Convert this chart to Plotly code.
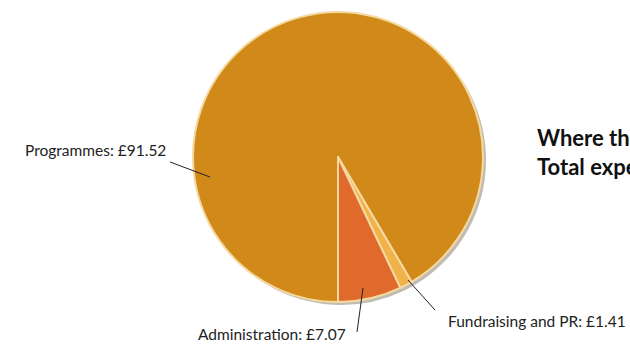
import plotly.graph_objects as go

# Data
categories = ["Programmes", "Fundraising and PR", "Administration"]
values = [91.52, 1.41, 7.07]
label_texts = ["Programmes: £91.52", "Fundraising and PR: £1.41", "Administration: £7.07"]
colors = ["#D18A1A", "#F2B24A", "#E0692C"]
title_lines = ["Where the money goes", "Total expenditure"]

W, H = 630, 348
cx, cy, r = 338, 157, 145

def px(x):
    return x / W

def py(y):
    return 1 - y / H

fig = go.Figure()

# soft shadow pie
sx, sy = cx + 3, cy + 3
fig.add_trace(go.Pie(
    labels=categories, values=values, sort=False, direction="clockwise",
    rotation=180, textinfo="none", hoverinfo="skip", showlegend=False,
    marker=dict(colors=["#9a8f80"] * 3, line=dict(width=0)),
    domain=dict(x=[px(sx - r), px(sx + r)], y=[py(sy + r), py(sy - r)]),
    opacity=0.6,
))

fig.add_trace(go.Pie(
    labels=categories, values=values, sort=False, direction="clockwise",
    rotation=180, textinfo="none", showlegend=False,
    marker=dict(colors=colors, line=dict(color="#F4D9A0", width=2)),
    domain=dict(x=[px(cx - r), px(cx + r)], y=[py(cy + r), py(cy - r)]),
))

font = dict(family="Lato, 'Open Sans', sans-serif", size=15.5, color="#222222")

# leader lines (pixel endpoints)
leaders = [((170, 162), (210, 177)), ((408, 280), (435, 310)), ((363, 288), (357, 332))]
for (x0, y0), (x1, y1) in leaders:
    fig.add_shape(type="line", xref="paper", yref="paper",
                  x0=px(x0), y0=py(y0), x1=px(x1), y1=py(y1),
                  line=dict(color="#222222", width=1))

label_pos = [(168, 150, "right"), (446, 321, "left"), (348, 334, "right")]
for txt, (x, y, anc) in zip(label_texts, label_pos):
    fig.add_annotation(text=txt, x=px(x), y=py(y), xref="paper", yref="paper",
                       xanchor=anc, yanchor="middle", showarrow=False, font=font)

title_font = dict(family="Lato, 'Open Sans', sans-serif", size=22, color="#111111")
for txt, y in zip(title_lines, [137, 166]):
    fig.add_annotation(text="<b>" + txt + "</b>", x=px(535), y=py(y), xref="paper", yref="paper",
                       xanchor="left", yanchor="middle", showarrow=False, font=title_font)

fig.update_layout(width=W, height=H, margin=dict(l=0, r=0, t=0, b=0),
                  paper_bgcolor="white", plot_bgcolor="white")

fig.write_html("out.html")
